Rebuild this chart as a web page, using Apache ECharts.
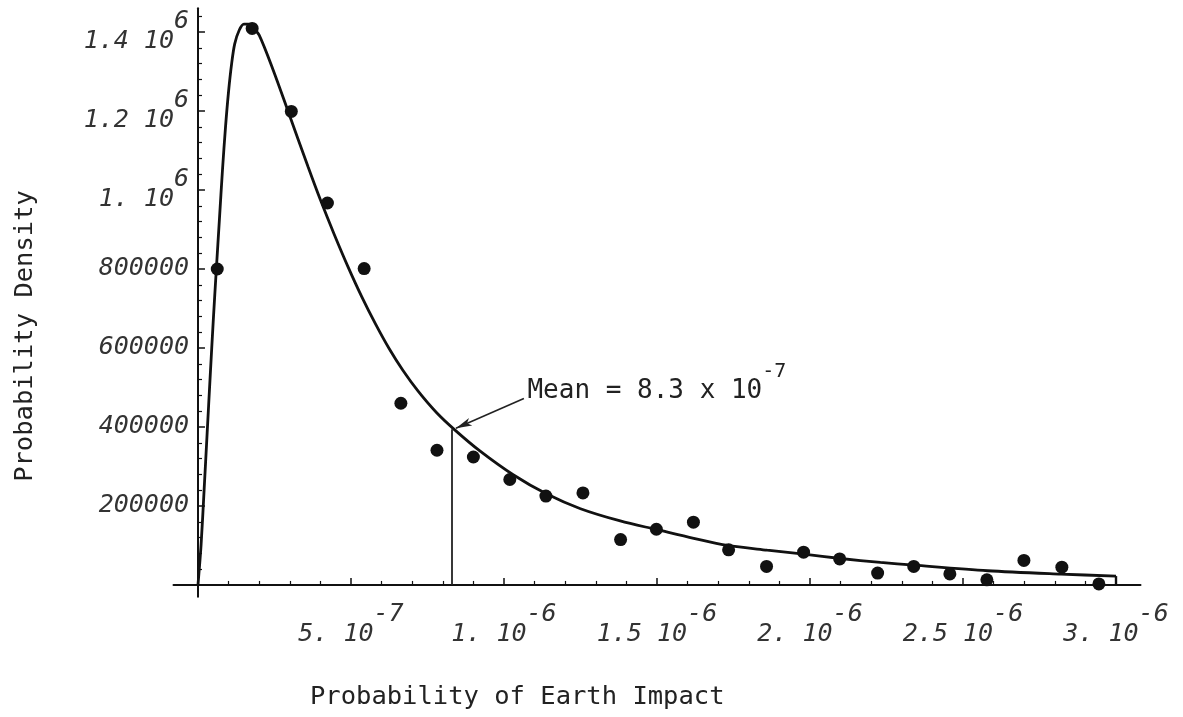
<!DOCTYPE html>
<html><head><meta charset="utf-8">
<script src="https://cdn.jsdelivr.net/npm/echarts@6/dist/echarts.min.js"></script>
<style>html,body{margin:0;padding:0;background:#fff}#c{width:1183px;height:717px}</style>
</head><body><div id="c"></div>
<script>
// Observed points (probability of Earth impact, probability density)
const pointX = [0.063e-6,0.177e-6,0.305e-6,0.423e-6,0.543e-6,0.663e-6,0.781e-6,0.900e-6,1.019e-6,1.137e-6,1.258e-6,1.381e-6,1.498e-6,1.619e-6,1.734e-6,1.858e-6,1.979e-6,2.097e-6,2.221e-6,2.339e-6,2.457e-6,2.578e-6,2.699e-6,2.823e-6,2.944e-6];
const pointY = [800000,1409000,1199000,967000,801000,460000,341000,324000,267000,225000,233000,115000,141000,159000,89000,47000,83000,66000,30000,47000,28000,13000,62000,45000,2500];

// Density curve
const curveX = [0,0.01e-6,0.02e-6,0.03e-6,0.04e-6,0.05e-6,0.06e-6,0.07e-6,0.08e-6,0.09e-6,0.10e-6,0.11e-6,0.12e-6,0.135e-6,0.15e-6,0.165e-6,0.18e-6,0.20e-6,0.245e-6,0.295e-6,0.36e-6,0.40e-6,0.445e-6,0.49e-6,0.535e-6,0.58e-6,0.625e-6,0.67e-6,0.72e-6,0.78e-6,0.84e-6,0.92e-6,1.03e-6,1.14e-6,1.25e-6,1.38e-6,1.50e-6,1.62e-6,1.73e-6,1.86e-6,1.98e-6,2.10e-6,2.23e-6,2.34e-6,2.58e-6,2.82e-6,3.00e-6];
const curveY = [0,100000,240000,385000,530000,670000,800000,925000,1050000,1160000,1250000,1320000,1370000,1405000,1420000,1420000,1410000,1392000,1305000,1198000,1058000,975000,888000,806000,730000,661000,598000,543000,490000,436000,392000,340000,279000,230000,193000,162000,140000,118000,100000,88000,78000,67000,57000,50000,36000,27500,22500];

// Mean annotation
const meanValue = 8.3e-7;
const meanCurveY = 394000;
const arrowFrom = [1.065e-6, 472000];
const arrowTo = [0.843e-6, 397000];
const annotAnchor = [1.075e-6, 515000];
const annotText = 'Mean = 8.3 x 10';
const annotExp = '-7';

// Tick labels
const xTickValues = [5e-7, 1e-6, 1.5e-6, 2e-6, 2.5e-6, 3e-6];
const xTickMantissa = ['5.', '1.', '1.5', '2.', '2.5', '3.'];
const xTickExponent = ['-7', '-6', '-6', '-6', '-6', '-6'];
const yTickValues = [200000, 400000, 600000, 800000, 1000000, 1200000, 1400000];
const yTickMantissa = ['200000', '400000', '600000', '800000', '1.', '1.2', '1.4'];
const yTickExponent = ['', '', '', '', '6', '6', '6'];
const xMinorStep = 1e-7, xMinorCount = 30;
const yMinorStep = 40000, yMinorCount = 36;

const xMinor = [], yMinor = [];
for (let i = 1; i <= xMinorCount; i++) if (i % 5) xMinor.push(i * xMinorStep);
for (let i = 1; i <= yMinorCount; i++) if (i % 5) yMinor.push(i * yMinorStep);

const NB = '\u00a0';
function expLabel(m, e) {
  if (!e) return m;
  const base = m + ' 10';
  return NB.repeat(base.length) + e + '\n' + base + NB.repeat(e.length);
}
function findIdx(arr, v) {
  for (let i = 0; i < arr.length; i++) if (Math.abs(arr[i] - v) <= Math.abs(arr[i]) * 1e-6) return i;
  return -1;
}

const XMIN = -0.08e-6, XMAX = 3.08e-6, YMIN = -30000, YMAX = 1460000;
const INK = '#111';
const tickFont = { fontFamily: 'DejaVu Sans Mono', fontStyle: 'italic', fontSize: 25, lineHeight: 20, color: '#333' };
const titleFont = '25.5px "DejaVu Sans Mono"';

const chart = echarts.init(document.getElementById('c'), null, { renderer: 'canvas' });
chart.setOption({
  animation: false,
  backgroundColor: '#fff',
  grid: { left: 173.5, right: 42.5, top: 8.3, bottom: 120.2, containLabel: false, outerBoundsMode: 'none' },
  xAxis: [
    { type: 'value', min: XMIN, max: XMAX, position: 'bottom',
      axisLine: { show: true, onZero: true, lineStyle: { color: INK, width: 2 } },
      axisTick: { show: true, inside: true, length: 7, customValues: xTickValues, lineStyle: { color: INK, width: 1.5 } },
      axisLabel: Object.assign({ show: true, customValues: xTickValues, margin: 8,
        formatter: v => { const i = findIdx(xTickValues, v); return i < 0 ? '' : expLabel(xTickMantissa[i], xTickExponent[i]); } }, tickFont),
      splitLine: { show: false } },
    { type: 'value', min: XMIN, max: XMAX, position: 'bottom',
      axisLine: { show: false, onZero: true },
      axisTick: { show: true, inside: true, length: 4, customValues: xMinor, lineStyle: { color: INK, width: 1.2 } },
      axisLabel: { show: false }, splitLine: { show: false } }
  ],
  yAxis: [
    { type: 'value', min: YMIN, max: YMAX, position: 'left',
      axisLine: { show: true, onZero: true, lineStyle: { color: INK, width: 2 } },
      axisTick: { show: true, inside: true, length: 7, customValues: yTickValues, lineStyle: { color: INK, width: 1.5 } },
      axisLabel: Object.assign({ show: true, customValues: yTickValues, margin: -15.5,
        formatter: v => { const i = findIdx(yTickValues, v); return i < 0 ? '' : expLabel(yTickMantissa[i], yTickExponent[i]); } }, tickFont),
      splitLine: { show: false } },
    { type: 'value', min: YMIN, max: YMAX, position: 'left',
      axisLine: { show: false, onZero: true },
      axisTick: { show: true, inside: true, length: 4, customValues: yMinor, lineStyle: { color: INK, width: 1.2 } },
      axisLabel: { show: false }, splitLine: { show: false } }
  ],
  series: [
    { type: 'line', xAxisIndex: 0, yAxisIndex: 0, silent: true, z: 3,
      data: curveX.map((x, i) => [x, curveY[i]]),
      showSymbol: false, smooth: 0.3,
      lineStyle: { color: INK, width: 2.8 },
      markLine: {
        silent: true, animation: false, symbol: ['none', 'none'], precision: 12,
        label: { show: false }, emphasis: { disabled: true },
        lineStyle: { type: 'solid', color: '#222', width: 1.8 },
        data: [
          [{ coord: [meanValue, 0] }, { coord: [meanValue, meanCurveY] }],
          [{ coord: [curveX[curveX.length - 1], curveY[curveY.length - 1]], lineStyle: { width: 2.4, color: INK } }, { coord: [curveX[curveX.length - 1], 0] }],
          [{ coord: arrowFrom, symbol: 'none', lineStyle: { width: 1.6, color: '#222' } }, { coord: arrowTo, symbol: 'arrow', symbolSize: [6, 16] }]
        ]
      }
    },
    { type: 'scatter', xAxisIndex: 0, yAxisIndex: 0, silent: true, z: 4,
      data: pointX.map((x, i) => [x, pointY[i]]),
      symbol: 'circle', symbolSize: 13, itemStyle: { color: INK, opacity: 1 },
      markPoint: {
        silent: true, animation: false, symbol: 'circle', symbolSize: 1,
        itemStyle: { color: 'rgba(0,0,0,0)' },
        data: [{ coord: annotAnchor }],
        label: {
          show: true, position: 'right', distance: 0,
          formatter: () => '{m|' + NB.repeat(annotText.length) + '}{s|' + annotExp + '}\n{m|' + annotText + '}',
          rich: {
            m: { fontFamily: 'DejaVu Sans Mono', fontSize: 26, lineHeight: 19, color: '#222' },
            s: { fontFamily: 'DejaVu Sans Mono', fontSize: 20, lineHeight: 19, color: '#222' }
          }
        }
      }
    }
  ],
  graphic: [
    { type: 'text', x: 310, y: 697, silent: true,
      style: { text: 'Probability of Earth Impact', font: titleFont, fill: '#222', align: 'left', verticalAlign: 'middle' } },
    { type: 'text', x: 25, y: 336, rotation: Math.PI / 2, silent: true,
      style: { text: 'Probability Density', x: 0, y: 0, font: titleFont, fill: '#222', align: 'center', verticalAlign: 'middle' } }
  ]
});
</script>
</body></html>
